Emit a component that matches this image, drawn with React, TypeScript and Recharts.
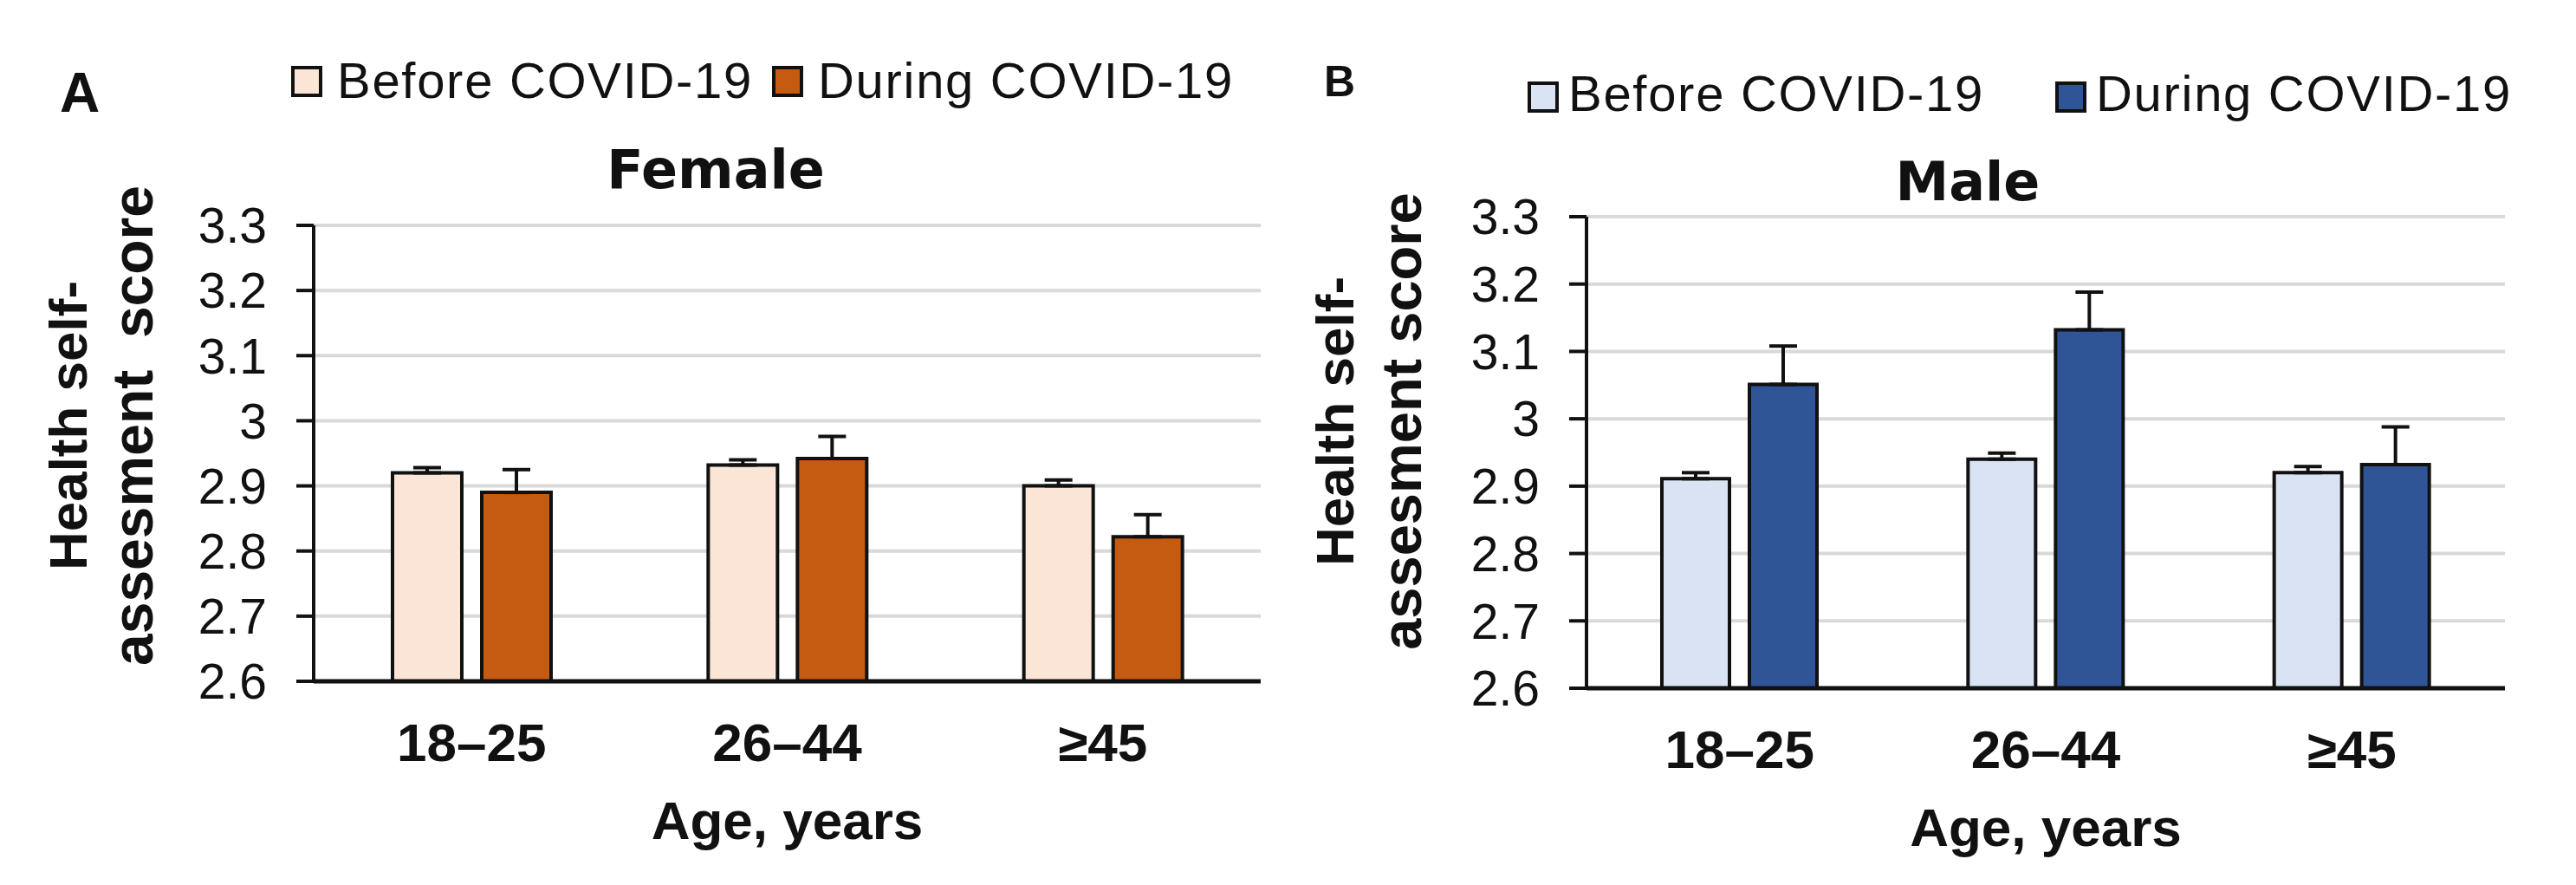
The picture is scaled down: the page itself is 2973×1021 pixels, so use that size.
import { BarChart, Bar, XAxis, YAxis, CartesianGrid, ErrorBar, Legend } from "recharts";

const ageGroups = ["18–25", "26–44", "≥45"];
const yTicks = [2.6, 2.7, 2.8, 2.9, 3, 3.1, 3.2, 3.3];
const seriesNames = ["Before COVID-19", "During COVID-19"];

// Female
const femaleBefore = [2.92, 2.932, 2.9];
const femaleDuring = [2.89, 2.942, 2.822];
const femaleBeforeErr = [0.008, 0.008, 0.009];
const femaleDuringErr = [0.035, 0.034, 0.034];

// Male
const maleBefore = [2.911, 2.94, 2.92];
const maleDuring = [3.051, 3.132, 2.932];
const maleBeforeErr = [0.009, 0.009, 0.009];
const maleDuringErr = [0.057, 0.056, 0.056];

const FONT = "'Liberation Sans', Arial, Helvetica, sans-serif";
const TITLE_FONT = "'DejaVu Sans', sans-serif";
const INK = "#111";

const buildRows = (before: number[], during: number[], bErr: number[], dErr: number[]) =>
  ageGroups.map((age, i) => ({
    age,
    before: before[i],
    during: during[i],
    beforeErr: [0, bErr[i]],
    duringErr: [0, dErr[i]],
  }));

const femaleRows = buildRows(femaleBefore, femaleDuring, femaleBeforeErr, femaleDuringErr);
const maleRows = buildRows(maleBefore, maleDuring, maleBeforeErr, maleDuringErr);

type PanelProps = {
  rows: any[];
  width: number;
  colors: [string, string];
  margin: { top: number; right: number; bottom: number; left: number };
  xAxisHeight: number;
  yLabelLines: [string, string];
  yLabelX: [number, number];
  yLabelSize: [number, number];
  yLabelCy: number;
  legendTop: number;
  legendLeft: number;
  legendItemX: [number, number];
  legendTextX: [number, number];
  legendBoxTop: number;
  barSize: number;
};

function Panel(p: PanelProps) {
  const renderLegend = (props: any) => {
    const items = props.payload || [];
    return (
      <div style={{ position: "relative", height: 60, width: 1300, fontFamily: FONT }}>
        {items.map((it: any, i: number) => (
          <div key={i} style={{ position: "absolute", left: p.legendItemX[i], top: 0, height: 60 }}>
            <span
              style={{
                position: "absolute",
                left: 0,
                top: p.legendBoxTop,
                width: 28,
                height: 28,
                border: `4px solid ${INK}`,
                background: p.colors[i],
              }}
            />
            <span
              style={{
                position: "absolute",
                left: p.legendTextX[i],
                top: 0,
                fontSize: 58,
                letterSpacing: 1.7,
                lineHeight: "60px",
                whiteSpace: "nowrap",
                color: INK,
              }}
            >
              {it.value}
            </span>
          </div>
        ))}
      </div>
    );
  };

  const yLabel = () => (
    <g>
      {p.yLabelLines.map((line, i) => (
        <text
          key={i}
          x={p.yLabelX[i]}
          y={p.yLabelCy}
          transform={`rotate(-90 ${p.yLabelX[i]} ${p.yLabelCy})`}
          textAnchor="middle"
          fontFamily={FONT}
          fontWeight="bold"
          fontSize={p.yLabelSize[i]}
          fill={INK}
          style={{ whiteSpace: "pre" }}
        >
          {line}
        </text>
      ))}
    </g>
  );

  const xLabel = (props: any) => {
    const vb = props.viewBox || {};
    return (
      <text
        x={vb.x + vb.width / 2}
        y={vb.y + 182}
        textAnchor="middle"
        fontFamily={FONT}
        fontWeight="bold"
        fontSize={62}
        fill={INK}
      >
        Age, years
      </text>
    );
  };

  return (
    <BarChart width={p.width} height={1021} data={p.rows} margin={p.margin} barGap={23}>
      <CartesianGrid vertical={false} stroke="#d9d9d9" strokeWidth={4} />
      <XAxis
        dataKey="age"
        height={p.xAxisHeight}
        tickLine={false}
        tickSize={0}
        tickMargin={48}
        axisLine={{ stroke: INK, strokeWidth: 5 }}
        tick={{ fontFamily: FONT, fontWeight: "bold", fontSize: 62, fill: INK }}
        label={{ content: xLabel }}
      />
      <YAxis
        type="number"
        domain={[2.6, 3.3]}
        ticks={yTicks}
        interval={0}
        width={200}
        tickSize={20}
        tickMargin={34}
        axisLine={{ stroke: INK, strokeWidth: 4 }}
        tickLine={{ stroke: INK, strokeWidth: 4 }}
        tick={{ fontFamily: FONT, fontSize: 57, fill: INK }}
        label={{ content: yLabel }}
      />
      <Legend
        verticalAlign="middle"
        align="center"
        layout="horizontal"
        wrapperStyle={{ top: p.legendTop, left: p.legendLeft, width: "auto" }}
        content={renderLegend}
      />
      <Bar
        dataKey="before"
        name={seriesNames[0]}
        fill={p.colors[0]}
        stroke={INK}
        strokeWidth={4}
        barSize={p.barSize}
        isAnimationActive={false}
      >
        <ErrorBar dataKey="beforeErr" direction="y" width={16} stroke={INK} strokeWidth={4} isAnimationActive={false} />
      </Bar>
      <Bar
        dataKey="during"
        name={seriesNames[1]}
        fill={p.colors[1]}
        stroke={INK}
        strokeWidth={4}
        barSize={p.barSize}
        isAnimationActive={false}
      >
        <ErrorBar dataKey="duringErr" direction="y" width={16} stroke={INK} strokeWidth={4} isAnimationActive={false} />
      </Bar>
    </BarChart>
  );
}

export default function App() {
  return (
    <div style={{ position: "relative", width: 2973, height: 1021, background: "#fff", overflow: "hidden" }}>
      <style>{"body{margin:0}"}</style>
      <div style={{ position: "absolute", left: 0, top: 0 }}>
        <Panel
          rows={femaleRows}
          width={1500}
          colors={["#fbe5d6", "#c55a11"]}
          margin={{ top: 260, right: 45, bottom: 10, left: 162 }}
          xAxisHeight={225}
          yLabelLines={["Health self-", "assesment  score"]}
          yLabelX={[100, 176]}
          yLabelSize={[62, 66]}
          yLabelCy={491}
          legendTop={63}
          legendLeft={336}
          legendItemX={[0, 555]}
          legendTextX={[53, 53]}
          legendBoxTop={13}
          barSize={80}
        />
      </div>
      <div style={{ position: "absolute", left: 1500, top: 0 }}>
        <Panel
          rows={maleRows}
          width={1473}
          colors={["#dae3f3", "#2f5597"]}
          margin={{ top: 250, right: 82, bottom: 10, left: 131 }}
          xAxisHeight={217}
          yLabelLines={["Health self-", "assesment score"]}
          yLabelX={[62, 140]}
          yLabelSize={[62, 65]}
          yLabelCy={486}
          legendTop={78}
          legendLeft={263}
          legendItemX={[0, 609]}
          legendTextX={[47, 47]}
          legendBoxTop={16}
          barSize={78}
        />
      </div>
      <svg width={2973} height={1021} style={{ position: "absolute", left: 0, top: 0, pointerEvents: "none" }}>
        <text x={69} y={129} fontFamily={FONT} fontWeight="bold" fontSize={64} fill={INK}>
          A
        </text>
        <text x={1528} y={111} fontFamily={FONT} fontWeight="bold" fontSize={50} fill={INK}>
          B
        </text>
        <text x={826} y={217} textAnchor="middle" fontFamily={TITLE_FONT} fontWeight="bold" fontSize={62} fill={INK}>
          Female
        </text>
        <text x={2271} y={231} textAnchor="middle" fontFamily={TITLE_FONT} fontWeight="bold" fontSize={62} fill={INK}>
          Male
        </text>
      </svg>
    </div>
  );
}
